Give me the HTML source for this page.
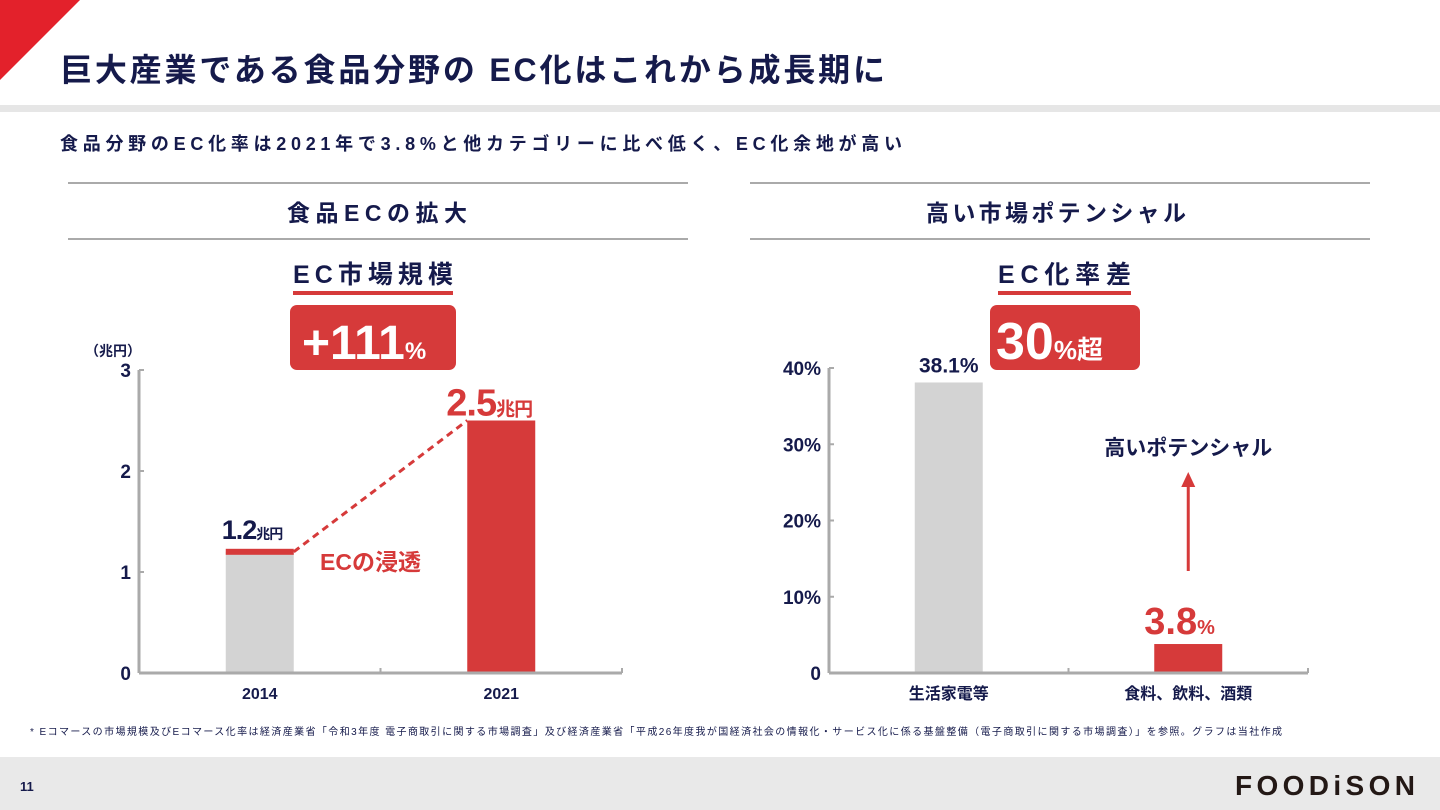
<!DOCTYPE html>
<html><head><meta charset="utf-8"><style>
body{margin:0;width:1440px;height:810px;overflow:hidden;background:#fff;font-family:"Liberation Sans","Noto Sans CJK JP",sans-serif;color:#151a4b;position:relative}
.a{position:absolute;white-space:nowrap}
svg text{font-family:"Liberation Sans","Noto Sans CJK JP",sans-serif}
</style></head><body>
<svg class="a" style="left:0;top:0" width="1440" height="810">
<polygon points="0,0 80,0 0,80" fill="#e3212b"/>
<rect x="0" y="105" width="1440" height="7" fill="#e6e6e6"/>
<rect x="0" y="757" width="1440" height="53" fill="#e9e9e9"/>
<line x1="68" y1="183" x2="688" y2="183" stroke="#aaa" stroke-width="2"/>
<line x1="68" y1="239" x2="688" y2="239" stroke="#aaa" stroke-width="2"/>
<line x1="750" y1="183" x2="1370" y2="183" stroke="#aaa" stroke-width="2"/>
<line x1="750" y1="239" x2="1370" y2="239" stroke="#aaa" stroke-width="2"/>
<text x="60" y="81" font-size="32" font-weight="bold" fill="#151a4b" textLength="825" lengthAdjust="spacing">巨大産業である食品分野の EC化はこれから成長期に</text>
<text x="60" y="150" font-size="18" font-weight="bold" fill="#151a4b" textLength="842" lengthAdjust="spacing">食品分野のEC化率は2021年で3.8%と他カテゴリーに比べ低く、EC化余地が高い</text>
<text x="287" y="221" font-size="23" font-weight="bold" fill="#151a4b" textLength="180" lengthAdjust="spacing">食品ECの拡大</text>
<text x="926" y="221" font-size="23" font-weight="bold" fill="#151a4b" textLength="260" lengthAdjust="spacing">高い市場ポテンシャル</text>
<text x="293" y="283" font-size="25" font-weight="bold" fill="#151a4b" textLength="160" lengthAdjust="spacing">EC市場規模</text>
<rect x="293" y="291" width="160" height="4" fill="#d63a3a"/>
<rect x="290" y="305" width="166" height="65" rx="7" fill="#d63a3a"/>
<text x="302" y="359" font-size="48" font-weight="bold" fill="#fff">+111<tspan font-size="24">%</tspan></text>
<text x="998" y="283" font-size="25" font-weight="bold" fill="#151a4b" textLength="133" lengthAdjust="spacing">EC化率差</text>
<rect x="998" y="291" width="133" height="4" fill="#d63a3a"/>
<rect x="990" y="305" width="150" height="65" rx="7" fill="#d63a3a"/>
<text x="996" y="359" font-size="52" font-weight="bold" fill="#fff">30<tspan font-size="26">%超</tspan></text>
<g id="left"></g><g id="right"></g>
<text x="30" y="735" font-size="10" fill="#151a4b" textLength="1252" lengthAdjust="spacing">*  Eコマースの市場規模及びEコマース化率は経済産業省「令和3年度  電子商取引に関する市場調査」及び経済産業省「平成26年度我が国経済社会の情報化・サービス化に係る基盤整備（電子商取引に関する市場調査）」を参照。グラフは当社作成</text>
<text x="20" y="791" font-size="13" font-weight="bold" fill="#151a4b">11</text>
<text x="1235" y="795" font-size="28" font-weight="bold" fill="#231815" textLength="180" lengthAdjust="spacing">FOODiSON</text>
</svg>
<script>
const NS="http://www.w3.org/2000/svg";
const leftCats=["2014","2021"];
const leftVals=[1.2,2.5];
const leftTicks=[0,1,2,3];
const rightCats=["生活家電等","食料、飲料、酒類"];
const rightVals=[38.1,3.8];
const rightTicks=[0,10,20,30,40];
const rightTickLabels=["0","10%","20%","30%","40%"];
function mk(p,t,a){const e=document.createElementNS(NS,t);for(const k in a)e.setAttribute(k,a[k]);p.appendChild(e);return e;}
function axes(g,ax,x1,y0,ytop,max,ticks,labels,cats,vals,colors){
  const ys=v=>y0-(v/max)*(y0-ytop);
  const mid=(ax+x1)/2;
  const xs=i=>ax+(mid-ax)*(i+0.5);
  let l=mk(g,"line",{x1:ax,y1:ytop,x2:ax,y2:y0,stroke:"#aaa","stroke-width":3});
  
  
  l=mk(g,"line",{x1:ax,y1:y0,x2:x1,y2:y0,stroke:"#aaa","stroke-width":3});
  
  
  mk(g,"line",{x1:mid,y1:y0-5,x2:mid,y2:y0,stroke:"#aaa","stroke-width":2});
  mk(g,"line",{x1:x1,y1:y0-5,x2:x1,y2:y0,stroke:"#aaa","stroke-width":2});
  ticks.forEach((t,i)=>{
    mk(g,"line",{x1:ax,y1:ys(t),x2:ax+5,y2:ys(t),stroke:"#aaa","stroke-width":2});
    const tx=mk(g,"text",{x:ax-8,y:ys(t)+7,"font-size":19,"font-weight":"bold","text-anchor":"end",fill:"#151a4b"});
    tx.textContent=labels[i];
    
    
  });
  const bars=[];
  cats.forEach((c,i)=>{
    const cx=xs(i);
    const r=mk(g,"rect",{x:cx-34,y:ys(vals[i]),width:68,height:y0-1.5-ys(vals[i]),fill:colors[i]});
    
    
    const t=mk(g,"text",{x:cx,y:y0+26,"font-size":16,"font-weight":"bold","text-anchor":"middle",fill:"#151a4b"});
    t.textContent=c;
    
    
    bars.push({cx,top:ys(vals[i])});
  });
  return bars;
}
const L=document.getElementById("left");
const lb=axes(L,139,622,673,370,3,leftTicks,leftTicks.map(String),leftCats,leftVals,["#d3d3d3","#d63a3a"]);
mk(L,"rect",{x:lb[0].cx-34,y:lb[0].top-3,width:68,height:6,fill:"#d63a3a"});
let t=mk(L,"text",{x:85,y:356,"font-size":14,"font-weight":"bold",fill:"#151a4b"});t.textContent="（兆円）";


let dl=mk(L,"line",{x1:lb[0].cx+34,y1:lb[0].top,x2:lb[1].cx-34,y2:lb[1].top,stroke:"#d63a3a","stroke-width":3,"stroke-dasharray":"7,5"});


t=mk(L,"text",{x:lb[0].cx-38,y:lb[0].top-13,"font-size":27,"font-weight":"bold",fill:"#151a4b","letter-spacing":"-1"});
t.innerHTML=leftVals[0]+'<tspan font-size="14">兆円</tspan>';


t=mk(L,"text",{x:lb[1].cx-55,y:lb[1].top-5,"font-size":38,"font-weight":"bold",fill:"#d63a3a","letter-spacing":"-1"});
t.innerHTML=leftVals[1]+'<tspan font-size="19">兆円</tspan>';


t=mk(L,"text",{x:320,y:570,"font-size":23,"font-weight":"bold",fill:"#d63a3a"});t.textContent="ECの浸透";


const R=document.getElementById("right");
const rb=axes(R,829,1308,673,368,40,rightTicks,rightTickLabels,rightCats,rightVals,["#d3d3d3","#d63a3a"]);
t=mk(R,"text",{x:rb[0].cx,y:rb[0].top-10,"font-size":21,"font-weight":"bold","text-anchor":"middle",fill:"#151a4b"});t.textContent=rightVals[0]+"%";


t=mk(R,"text",{x:rb[1].cx-44,y:rb[1].top-10,"font-size":38,"font-weight":"bold",fill:"#d63a3a"});
t.innerHTML=rightVals[1]+'<tspan font-size="20">%</tspan>';


mk(R,"line",{x1:rb[1].cx,y1:571,x2:rb[1].cx,y2:485,stroke:"#d63a3a","stroke-width":3});
let ar=mk(R,"polygon",{points:`${rb[1].cx-7},487 ${rb[1].cx+7},487 ${rb[1].cx},472`,fill:"#d63a3a"});


t=mk(R,"text",{x:rb[1].cx,y:455,"font-size":21,"font-weight":"bold","text-anchor":"middle",fill:"#151a4b"});t.textContent="高いポテンシャル";


</script>
</body></html>
